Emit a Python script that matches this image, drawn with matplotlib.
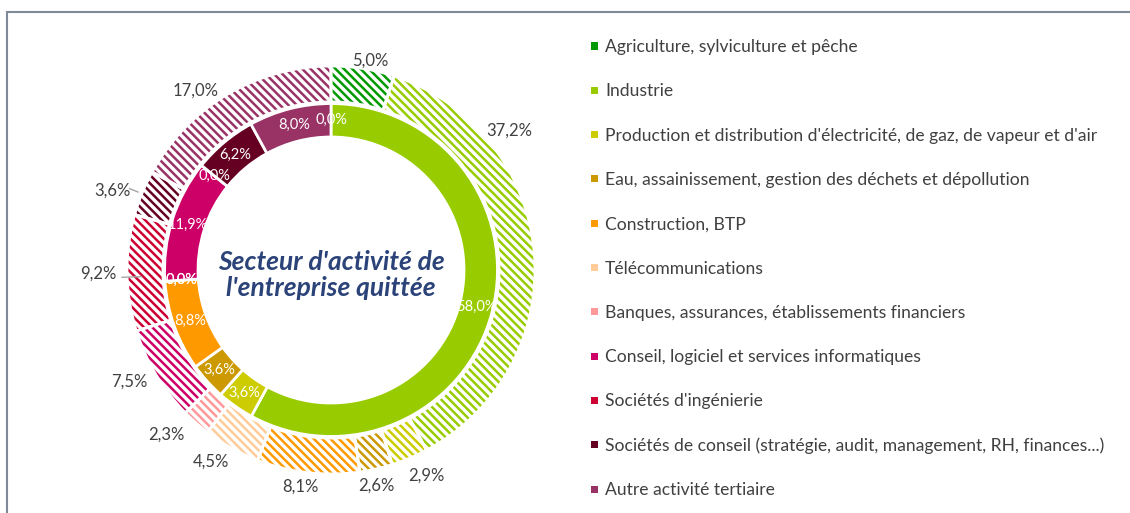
import numpy as np
import matplotlib
matplotlib.use('Agg')
import matplotlib.pyplot as plt
from matplotlib.patches import Rectangle

plt.rcParams['font.family'] = ['Lato', 'DejaVu Sans']
plt.rcParams['hatch.linewidth'] = 1.8

SECTORS = [
    "Agriculture, sylviculture et pêche",
    "Industrie",
    "Production et distribution d'électricité, de gaz, de vapeur et d'air",
    "Eau, assainissement, gestion des déchets et dépollution",
    "Construction, BTP",
    "Télécommunications",
    "Banques, assurances, établissements financiers",
    "Conseil, logiciel et services informatiques",
    "Sociétés d'ingénierie",
    "Sociétés de conseil (stratégie, audit, management, RH, finances...)",
    "Autre activité tertiaire",
]
COLORS = ['#009A00', '#99CC00', '#CCCC00', '#CC9900', '#FF9900', '#FFCC99',
          '#FF9999', '#CC0066', '#CC0033', '#660022', '#993366']

# outer ring (hatched) and inner ring (solid), in %
OUTER = [5.0, 37.2, 2.9, 2.6, 8.1, 4.5, 2.3, 7.5, 9.2, 3.6, 17.0]
INNER = [0.0, 58.0, 3.6, 3.6, 8.8, 0.0, 0.0, 11.9, 0.0, 6.2, 8.0]

TITLE = "Secteur d'activité de\nl'entreprise quittée"

# where the outer data labels sit: clockwise angle from 12 o'clock, radius
LABEL_ANG = [10.5, 52, 155, 168, 188, 212, 225, 241, 269, 290, 323]
LABEL_R = [1.045, 1.11, 1.11, 1.08, 1.07, 1.11, 1.14, 1.13, 1.14, 1.14, 1.10]

W, H = 1130, 513
CX, CY, R = 331, 270, 204      # pie centre / radius in pixels
HALF = 250


def pct(v):
    return f"{v:.1f}".replace('.', ',') + '%'


def mid_angles(vals):
    v = np.asarray(vals, float)
    c = np.cumsum(v) - v / 2
    return np.deg2rad(90 - 360 * c / v.sum())


def polar(r, cw_deg):
    a = np.deg2rad(90 - cw_deg)
    return r * np.cos(a), r * np.sin(a)


fig = plt.figure(figsize=(W / 100, H / 100), dpi=100)
ax = fig.add_axes([(CX - HALF) / W, (H - CY - HALF) / H, 2 * HALF / W, 2 * HALF / H])

# outer ring: white face, coloured hatch, then white separators on top
wo, _ = ax.pie(OUTER, radius=1.0, startangle=90, counterclock=False,
               colors=['white'] * len(OUTER),
               wedgeprops=dict(width=0.176, linewidth=0))
for w, c in zip(wo, COLORS):
    w.set_hatch('\\\\\\\\')
    w.set_edgecolor(c)
ax.pie(OUTER, radius=1.0, startangle=90, counterclock=False,
       colors=['none'] * len(OUTER),
       wedgeprops=dict(width=0.176, edgecolor='white', linewidth=2))

# inner ring
ax.pie(INNER, radius=0.816, startangle=90, counterclock=False, colors=COLORS,
       wedgeprops=dict(width=0.164, edgecolor='white', linewidth=2))

# inner labels
for a, v in zip(mid_angles(INNER), INNER):
    ax.text(0.735 * np.cos(a), 0.735 * np.sin(a), pct(v), ha='center', va='center',
            fontsize=10.5, color='white')

# outer labels
for ang, r, v in zip(LABEL_ANG, LABEL_R, OUTER):
    ax.text(*polar(r, ang), pct(v), ha='center', va='center',
            fontsize=12, color='#404040')

# leader lines
for ang, r0, r1 in [(268, 1.025, 0.93), (292, 1.065, 1.02)]:
    x0, y0 = polar(r0, ang)
    x1, y1 = polar(r1, ang)
    ax.plot([x0, x1], [y0, y1], color='#A6A6A6', lw=1)

ax.text(0, -0.025, TITLE, ha='center', va='center', fontsize=19, fontweight='bold',
        fontstyle='italic', color='#2B4378', linespacing=1.1)

ax.set_xlim(-HALF / R, HALF / R)
ax.set_ylim(-HALF / R, HALF / R)
ax.set_aspect('equal')
ax.axis('off')

# legend
for i, (name, c) in enumerate(zip(SECTORS, COLORS)):
    y = 46 + i * 44.3
    fig.add_artist(Rectangle((591 / W, (H - y - 3.5) / H), 7 / W, 7 / H,
                             transform=fig.transFigure, facecolor=c, edgecolor='none'))
    fig.text(605 / W, (H - y - 1) / H, name, ha='left', va='center', fontsize=12.6,
             color='#404040')

# chart-area frame (only top and left visible)
fig.add_artist(Rectangle((7 / W, -0.2), 1.5, (H - 12) / H + 0.2, transform=fig.transFigure,
                         fill=False, edgecolor='#7F8A99', linewidth=1.5))

fig.savefig('out.png', dpi=100)
